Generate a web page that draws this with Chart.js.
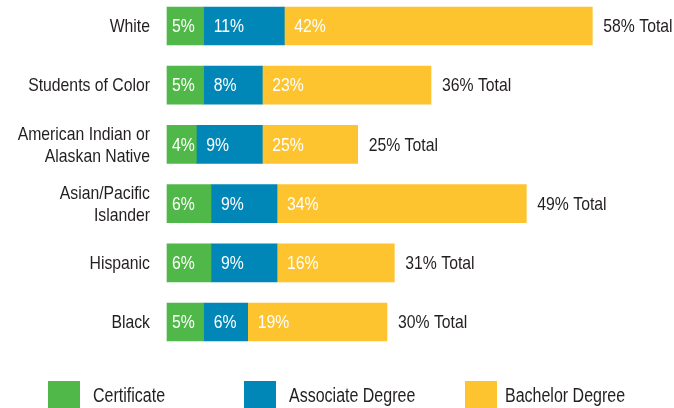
<!DOCTYPE html>
<html>
<head>
<meta charset="utf-8">
<script src="https://cdn.jsdelivr.net/npm/chart.js@4.4.0/dist/chart.umd.min.js"></script>
<style>
  html, body { margin: 0; padding: 0; background: #ffffff; }
  #wrap { width: 674px; height: 408px; }
</style>
</head>
<body>
<div id="wrap"><canvas id="chart" width="674" height="408"></canvas></div>
<script>
const categories = [
    'White',
    'Students of Color',
    ['American Indian or', 'Alaskan Native'],
    ['Asian/Pacific', 'Islander'],
    'Hispanic',
    'Black'
];
const seriesNames = ['Certificate', 'Associate Degree', 'Bachelor Degree'];
const certificate = [5, 5, 4, 6, 6, 5];
const associate = [11, 8, 9, 9, 9, 6];
// bar lengths as drawn in the picture (the American Indian bar is drawn shorter than its label)
const bachelor = [42, 23, 13, 34, 16, 19];
const bachelorLabels = ['42%', '23%', '25%', '34%', '16%', '19%'];
const totalLabels = ['58% Total', '36% Total', '25% Total', '49% Total', '31% Total', '30% Total'];

const COLORS = ['#50b848', '#0087b8', '#fec42f'];
const FONT = '"Liberation Sans", Arial, sans-serif';
const TEXT = '#231f20';
const SQUEEZE = 0.83; // condensed look of the original type

function squeezedText(ctx, text, x, y, align, sx) {
    ctx.save();
    ctx.translate(x, y);
    ctx.scale(sx || SQUEEZE, 1);
    ctx.textAlign = align;
    ctx.fillText(text, 0, 0);
    ctx.restore();
}

// category names left of the bars
const categoryLabels = {
    id: 'categoryLabels',
    afterDraw(chart) {
        const ctx = chart.ctx;
        const y = chart.scales.y;
        ctx.save();
        ctx.font = '19px ' + FONT;
        ctx.textBaseline = 'middle';
        ctx.fillStyle = TEXT;
        chart.data.labels.forEach((lab, i) => {
            const lines = Array.isArray(lab) ? lab : [lab];
            const cy = y.getPixelForTick(i);
            lines.forEach((line, k) => {
                const ly = cy + (k - (lines.length - 1) / 2) * 22 + 1;
                squeezedText(ctx, line, chart.chartArea.left - 17, ly, 'right');
            });
        });
        ctx.restore();
    }
};

// white value text inside each segment, plus totals at the bar ends
const segmentLabels = {
    id: 'segmentLabels',
    afterDatasetsDraw(chart) {
        const ctx = chart.ctx;
        ctx.save();
        ctx.font = '19px ' + FONT;
        ctx.textBaseline = 'middle';
        ctx.fillStyle = '#ffffff';
        chart.data.datasets.forEach((ds, di) => {
            const meta = chart.getDatasetMeta(di);
            meta.data.forEach((bar, i) => {
                const text = ds.valueLabels ? ds.valueLabels[i] : ds.data[i] + '%';
                const left = Math.min(bar.x, bar.base);
                const pad = di === 0 ? 5 : 10;
                squeezedText(ctx, text, left + pad, bar.y + 1, 'left');
            });
        });

        const last = chart.getDatasetMeta(chart.data.datasets.length - 1);
        ctx.fillStyle = TEXT;
        last.data.forEach((bar, i) => {
            squeezedText(ctx, totalLabels[i], Math.max(bar.x, bar.base) + 11, bar.y + 1, 'left');
        });
        ctx.restore();
    }
};

// legend along the bottom
const legendBoxX = [48, 244, 465];
const legendTextX = [93, 289, 505];
const bottomLegend = {
    id: 'bottomLegend',
    afterDraw(chart) {
        const ctx = chart.ctx;
        ctx.save();
        ctx.font = '20px ' + FONT;
        ctx.textBaseline = 'middle';
        chart.data.datasets.forEach((ds, i) => {
            ctx.fillStyle = ds.backgroundColor;
            ctx.fillRect(legendBoxX[i], 381, 32, 30);
            ctx.fillStyle = TEXT;
            squeezedText(ctx, ds.label, legendTextX[i], 396, 'left', 0.8);
        });
        ctx.restore();
    }
};

new Chart(document.getElementById('chart'), {
    type: 'bar',
    data: {
        labels: categories,
        datasets: [
            { label: seriesNames[0], data: certificate, backgroundColor: COLORS[0] },
            { label: seriesNames[1], data: associate, backgroundColor: COLORS[1] },
            { label: seriesNames[2], data: bachelor, backgroundColor: COLORS[2], valueLabels: bachelorLabels }
        ]
    },
    options: {
        indexAxis: 'y',
        responsive: false,
        animation: false,
        layout: { padding: { top: 26, bottom: 86, left: 0, right: 67 } },
        datasets: { bar: { barThickness: 38, borderWidth: 0, clip: false } },
        plugins: {
            legend: { display: false },
            tooltip: { enabled: false }
        },
        scales: {
            x: {
                stacked: true,
                display: false,
                min: 0,
                max: 60
            },
            y: {
                stacked: true,
                offset: false,
                grid: { display: false },
                border: { display: false },
                ticks: { display: false },
                afterFit(scale) { scale.width = 167; }
            }
        }
    },
    plugins: [segmentLabels, categoryLabels, bottomLegend]
});
</script>
</body>
</html>
